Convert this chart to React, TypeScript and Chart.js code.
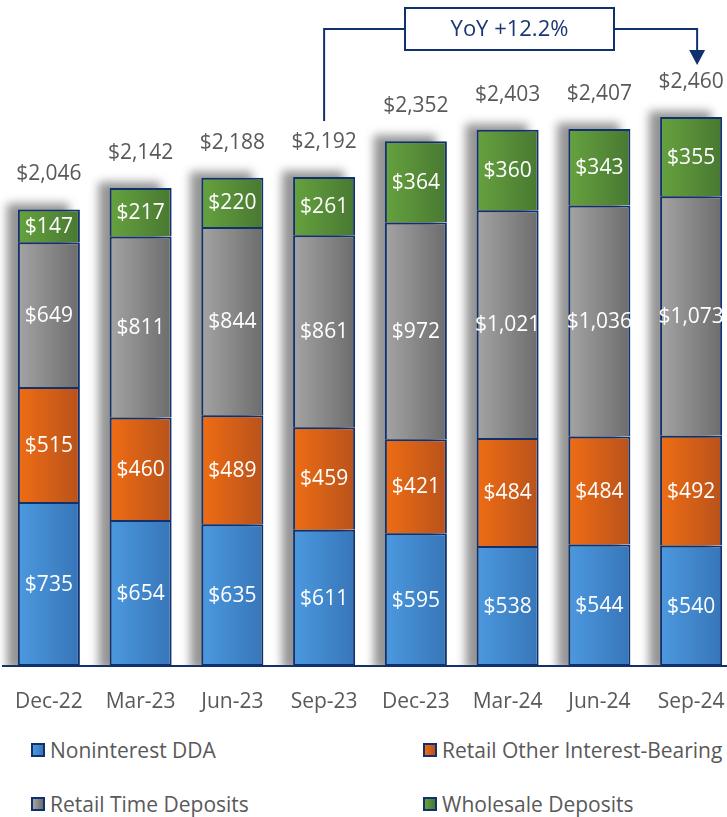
import React, { useEffect, useRef } from "react";
import { Chart, registerables } from "chart.js";

Chart.register(...registerables);

const categories = ["Dec-22", "Mar-23", "Jun-23", "Sep-23", "Dec-23", "Mar-24", "Jun-24", "Sep-24"];
const nonInterestDDA = [735, 654, 635, 611, 595, 538, 544, 540];
const retailOtherIB = [515, 460, 489, 459, 421, 484, 484, 492];
const retailTime = [649, 811, 844, 861, 972, 1021, 1036, 1073];
const wholesale = [147, 217, 220, 261, 364, 360, 343, 355];
const totals = [2046, 2142, 2188, 2192, 2352, 2403, 2407, 2460];
const seriesNames = ["Noninterest DDA", "Retail Other Interest-Bearing", "Retail Time Deposits", "Wholesale Deposits"];
const yoyText = "YoY +12.2%";
const yoyFrom = 3;
const yoyTo = 7;

const FONT = "'Open Sans', 'Noto Sans', sans-serif";
const NAVY = "#10306e";
const GRAY_TEXT = "#595959";
const BAR_PCT = 0.676;

const palette = [
  ["#4c99df", "#3775b8"],
  ["#ef6d14", "#b8521b"],
  ["#a4a4a4", "#6c6c6c"],
  ["#66a23f", "#487831"],
];

const grad = (c1: string, c2: string) => (ctx: any) => {
  const chart = ctx.chart;
  const xs = chart.scales?.x;
  if (!xs || ctx.dataIndex === undefined) return c1;
  const cx = xs.getPixelForValue(ctx.dataIndex);
  const half = ((xs.width / categories.length) * BAR_PCT) / 2;
  if (!isFinite(cx) || !isFinite(half)) return c1;
  const g = chart.ctx.createLinearGradient(cx - half, 0, cx + half, 0);
  g.addColorStop(0, c1);
  g.addColorStop(1, c2);
  return g;
};

const shadowPlugin = {
  id: "barShadow",
  beforeDatasetsDraw(chart: any) {
    const ctx = chart.ctx;
    const meta = chart.getDatasetMeta(0);
    const ys = chart.scales.y;
    const area = chart.chartArea;
    ctx.save();
    ctx.beginPath();
    ctx.rect(0, 0, chart.width, area.bottom);
    ctx.clip();
    ctx.filter = "blur(5px)";
    ctx.fillStyle = "rgba(60,60,60,0.55)";
    meta.data.forEach((el: any, i: number) => {
      const top = ys.getPixelForValue(totals[i]);
      const w = el.width;
      ctx.fillRect(el.x - w / 2 - 11, top - 6, w, area.bottom - top + 10);
    });
    ctx.restore();
  },
};

const labelPlugin = {
  id: "labels",
  afterDatasetsDraw(chart: any) {
    const ctx = chart.ctx;
    ctx.save();
    ctx.textAlign = "center";
    ctx.textBaseline = "middle";
    ctx.font = `21px ${FONT}`;
    chart.data.datasets.forEach((ds: any, di: number) => {
      const meta = chart.getDatasetMeta(di);
      meta.data.forEach((el: any, i: number) => {
        ctx.fillStyle = "#ffffff";
        ctx.fillText("$" + ds.data[i].toLocaleString("en-US"), el.x, (el.y + el.base) / 2 + 1);
      });
    });
    const ys = chart.scales.y;
    const meta0 = chart.getDatasetMeta(0);
    ctx.fillStyle = GRAY_TEXT;
    meta0.data.forEach((el: any, i: number) => {
      const top = ys.getPixelForValue(totals[i]);
      ctx.fillText("$" + totals[i].toLocaleString("en-US"), el.x, top - 35);
    });
    ctx.restore();
  },
  afterDraw(chart: any) {
    const ctx = chart.ctx;
    const xs = chart.scales.x;
    const ys = chart.scales.y;
    const x1 = xs.getPixelForValue(yoyFrom);
    const x2 = xs.getPixelForValue(yoyTo) + 6;
    const yStart = ys.getPixelForValue(totals[yoyFrom]) - 56;
    const yLine = 29;
    const boxL = 405, boxR = 614, boxT = 8, boxB = 50;
    const arrowTip = ys.getPixelForValue(totals[yoyTo]) - 52;
    ctx.save();
    ctx.strokeStyle = NAVY;
    ctx.lineWidth = 2;
    ctx.beginPath();
    ctx.moveTo(x1, yStart);
    ctx.lineTo(x1, yLine);
    ctx.lineTo(boxL, yLine);
    ctx.moveTo(boxR, yLine);
    ctx.lineTo(x2, yLine);
    ctx.lineTo(x2, arrowTip - 12);
    ctx.stroke();
    ctx.fillStyle = NAVY;
    ctx.beginPath();
    ctx.moveTo(x2 - 8, arrowTip - 15);
    ctx.lineTo(x2 + 8, arrowTip - 15);
    ctx.lineTo(x2, arrowTip);
    ctx.closePath();
    ctx.fill();
    ctx.fillStyle = "#ffffff";
    ctx.fillRect(boxL, boxT, boxR - boxL, boxB - boxT);
    ctx.strokeRect(boxL, boxT, boxR - boxL, boxB - boxT);
    ctx.fillStyle = "#1c3672";
    ctx.font = `22px ${FONT}`;
    ctx.textAlign = "center";
    ctx.textBaseline = "middle";
    ctx.fillText(yoyText, (boxL + boxR) / 2, (boxT + boxB) / 2 + 1);
    ctx.restore();
  },
};

export default function App() {
  const ref = useRef<HTMLCanvasElement>(null);
  useEffect(() => {
    if (!ref.current) return;
    const seriesData = [nonInterestDDA, retailOtherIB, retailTime, wholesale];
    const chart = new Chart(ref.current, {
      type: "bar",
      data: {
        labels: categories,
        datasets: seriesData.map((d, i) => ({
          label: seriesNames[i],
          data: d,
          backgroundColor: grad(palette[i][0], palette[i][1]) as any,
          borderColor: NAVY,
          borderWidth: { top: 2, bottom: i === 0 ? 2 : 0, left: 2, right: 2 },
          borderSkipped: false,
          categoryPercentage: 1,
          barPercentage: BAR_PCT,
        })),
      },
      options: {
        responsive: false,
        animation: false,
        layout: { padding: { left: 3, right: 0, top: 10, bottom: 0 } },
        plugins: { legend: { display: false }, tooltip: { enabled: false } },
        scales: {
          x: {
            stacked: true,
            grid: { display: true, drawOnChartArea: false, drawTicks: true, tickLength: 14, color: "rgba(0,0,0,0)", tickColor: "rgba(0,0,0,0)" },
            border: { display: true, color: NAVY, width: 2 },
            ticks: { color: GRAY_TEXT, font: { family: FONT, size: 21 }, padding: 9, maxRotation: 0 },
            afterFit: (s: any) => { s.height = 54; },
          },
          y: { stacked: true, display: false, min: 0, max: 2940 },
        },
      },
      plugins: [shadowPlugin, labelPlugin],
    });
    return () => chart.destroy();
  }, []);

  const legendItem = (i: number, left: number, top: number) => (
    <div
      key={i}
      style={{ position: "absolute", left, top, height: 24, display: "flex", alignItems: "center", whiteSpace: "nowrap" }}
    >
      <span
        style={{
          width: 10,
          height: 10,
          border: `2px solid ${NAVY}`,
          background: `linear-gradient(to right, ${palette[i][0]}, ${palette[i][1]})`,
          marginRight: 5,
          display: "inline-block",
        }}
      />
      <span style={{ fontFamily: FONT, fontSize: 21, color: GRAY_TEXT }}>{seriesNames[i]}</span>
    </div>
  );

  return (
    <div style={{ position: "absolute", left: 0, top: 0, width: 727, height: 817, overflow: "hidden", background: "#fff" }}>
      <canvas ref={ref} width={737} height={720} style={{ position: "absolute", left: 0, top: 0, width: 737, height: 720 }} />
      {legendItem(0, 31, 738)}
      {legendItem(1, 423, 738)}
      {legendItem(2, 31, 792)}
      {legendItem(3, 423, 792)}
    </div>
  );
}
